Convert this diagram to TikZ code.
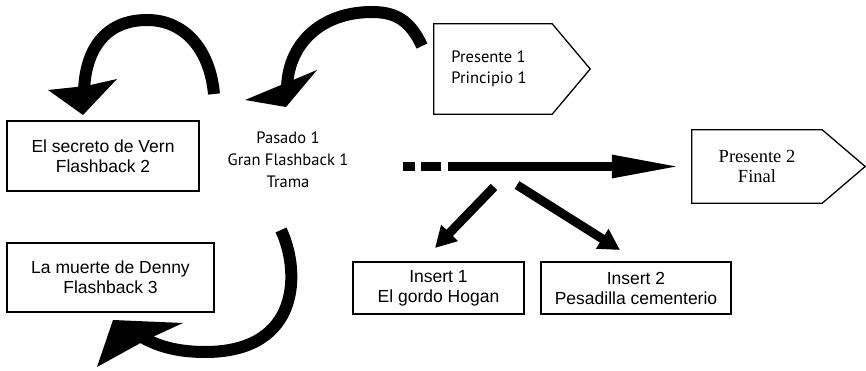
\documentclass[tikz,border=0pt]{standalone}
\usepackage{fontspec}
\setmainfont{Liberation Sans}
\newfontfamily\myriadfont{PT Sans}
\newfontfamily\cambriafont{Liberation Serif}
\usetikzlibrary{arrows.meta,calc}
\begin{document}
\begin{tikzpicture}[x=1pt,y=-1pt,
  box/.style={draw,line width=1.3pt,align=center,inner sep=0pt,
    font=\fontsize{17.5}{20}\selectfont},
  plain/.style={align=center,inner sep=0pt,font=\myriadfont\fontsize{16.5}{22}\selectfont},
  pentline/.style={draw,line width=1.3pt},
  shaft/.style={line width=12pt,line cap=butt},
  head/.style={fill=black},
  straight/.style={line width=9pt,line cap=butt,-{Triangle[length=70pt,width=21pt]}},
  thin/.style={line width=9pt,line cap=butt,-{Triangle[length=21pt,width=22pt]}}]
\useasboundingbox (0,0) rectangle (866,371);

% boxes
\node[box,minimum width=192pt,minimum height=70pt] (vern) at (103,156) {El secreto de Vern\\Flashback 2};
\node[box,minimum width=207pt,minimum height=69pt] (denny) at (110.5,277.5) {La muerte de Denny\\Flashback 3};
\node[box,minimum width=171pt,minimum height=52pt] (ins1) at (438.5,288) {Insert 1\\El gordo Hogan};
\node[box,minimum width=190pt,minimum height=52pt] (ins2) at (636,288) {Insert 2\\Pesadilla cementerio};
\node[plain] (pasado) at (288,160) {Pasado 1\\Gran Flashback 1\\Trama};

% Presente 1 pentagon
\node[minimum width=118pt,minimum height=90pt,inner sep=0pt] (p1) at (493,69) {};
\draw[pentline] (p1.north west) -- (p1.north east) -- ($(p1.east)+(38,0)$) -- (p1.south east) -- (p1.south west) -- cycle;
\node[align=left,inner sep=0pt,font=\myriadfont\fontsize{16.5}{21}\selectfont] (p1t) at (489,69) {Presente 1\\Principio 1};

% Presente 2 pentagon
\node[minimum width=130pt,minimum height=73pt,inner sep=0pt,align=center,
  font=\cambriafont\fontsize{18.5}{20}\selectfont] (p2) at (757,166.5) {Presente 2\\Final};
\draw[pentline] (p2.north west) -- (p2.north east) -- ($(p2.east)+(43,0)$) -- (p2.south east) -- (p2.south west) -- cycle;

% straight dashed arrow
\coordinate (ds) at (403,166.5);
\draw[straight,dash pattern=on 12pt off 6pt on 20pt off 7pt on 1000pt] (ds) -- ([xshift=-10pt]p2.west);

% insert arrows
\coordinate (a1s) at (494,187);
\coordinate (a1e) at (435,248);
\coordinate (a2s) at (517,185);
\coordinate (a2e) at (620,250);
\draw[thin] (a1s) -- (a1e);
\draw[thin] (a2s) -- (a2e);

% curved arrow 1 (to Flashback 2)
\draw[shaft] (214,94) .. controls (210,50) and (185,20) .. (147,20) .. controls (105,20) and (85,50) .. (84,92);
\fill[head] (48,90) -- (83,115) -- (117,79) -- (86,86) -- cycle;

% curved arrow 2 (Presente 1 to Pasado)
\draw[shaft] (422,46) .. controls (410,20) and (395,12) .. (372,12) .. controls (320,12) and (287,45) .. (287,90);
\fill[head] (245,100) -- (317,70) -- (286,107) -- cycle;

% curved arrow 3 (to Flashback 3)
\draw[shaft] (281,230) .. controls (300,270) and (302,352) .. (205,352) .. controls (175,352) and (155,345) .. (140,336);
\fill[head] (113,320) -- (183,323) -- (146,340) -- (97,367) -- cycle;
\end{tikzpicture}
\end{document}
